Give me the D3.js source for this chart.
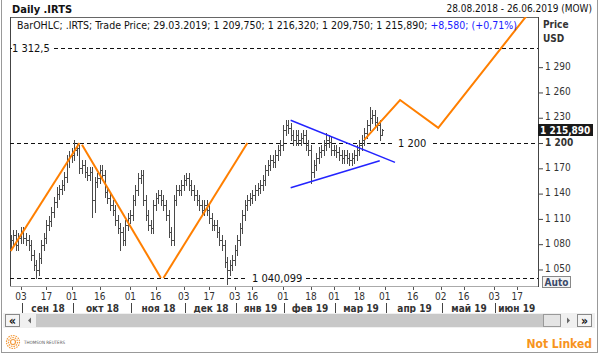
<!DOCTYPE html>
<html lang="ru">
<head>
<meta charset="utf-8">
<title>Daily .IRTS</title>
<script src="https://cdn.jsdelivr.net/npm/d3@7"></script>
<style>
  body { margin: 0; background: #fff; }
  svg { display: block; font-family: "DejaVu Sans Condensed", "DejaVu Sans", sans-serif; }
</style>
</head>
<body>
<script>
// ---- data ----
var firstDay = "2018-08-28", lastDay = "2019-06-26";
var holidays = ["2018-11-05", "2018-12-31", "2019-01-01", "2019-01-02", "2019-01-07", "2019-01-08",
  "2019-03-08", "2019-05-01", "2019-05-09", "2019-06-12"];

var opens = [1080,1085,1091,1079,1087,1094,1087,1085,1079,1067,1055,1049,1064,1079,1087,1103,1108,1118,1130,1140,
  1145,1150,1160,1180,1185,1186,1192,1194,1170,1174,1166,1162,1166,1132,1154,1158,1168,1162,1142,1135,
  1126,1121,1109,1099,1094,1085,1103,1111,1115,1132,1144,1158,1162,1132,1115,1103,1099,1126,1135,1138,
  1132,1126,1115,1094,1085,1132,1144,1144,1150,1156,1158,1150,1144,1138,1132,1126,1121,1126,1121,1111,
  1103,1103,1094,1085,1079,1059,1049,1055,1061,1073,1085,1099,1115,1126,1132,1135,1138,1144,1147,1150,
  1156,1168,1174,1180,1178,1186,1192,1198,1215,1221,1218,1209,1204,1209,1204,1206,1209,1198,1192,1166,
  1174,1182,1189,1192,1198,1204,1201,1192,1192,1189,1186,1182,1186,1182,1180,1182,1186,1192,1198,1204,
  1212,1221,1230,1233,1225,1221,1209.75];
var highs = [1091,1097,1097,1093,1100,1100,1093,1091,1085,1073,1061,1070,1085,1093,1109,1114,1124,1136,1148,1150,
  1156,1166,1186,1190,1194,1203,1200,1198,1180,1180,1172,1172,1172,1160,1164,1174,1174,1168,1148,1141,
  1132,1127,1115,1105,1100,1109,1117,1121,1138,1150,1164,1168,1168,1138,1121,1109,1132,1141,1144,1144,
  1138,1132,1121,1100,1138,1150,1150,1156,1162,1164,1164,1156,1150,1144,1138,1132,1132,1132,1127,1117,
  1109,1109,1100,1091,1085,1065,1061,1067,1079,1091,1105,1121,1132,1138,1141,1144,1150,1153,1156,1162,
  1174,1180,1186,1186,1192,1198,1204,1221,1227,1227,1224,1215,1215,1215,1212,1215,1215,1204,1198,1180,
  1188,1195,1198,1204,1212,1210,1207,1198,1198,1195,1192,1192,1192,1188,1188,1192,1198,1204,1210,1218,
  1227,1243,1239,1239,1231,1227,1216.32];
var lows = [1074,1079,1073,1073,1081,1081,1079,1073,1061,1049,1040.1,1043,1058,1073,1081,1097,1102,1112,1124,1134,
  1140,1144,1154,1172,1178,1180,1186,1164,1164,1160,1156,1156,1112,1118,1148,1152,1156,1136,1129,1120,
  1115,1103,1093,1073,1079,1079,1097,1105,1109,1126,1138,1152,1126,1109,1097,1093,1093,1120,1129,1126,
  1120,1109,1088,1079,1079,1126,1138,1138,1144,1150,1144,1138,1132,1126,1120,1115,1115,1115,1105,1097,
  1097,1088,1079,1073,1053,1033,1043,1049,1055,1067,1079,1093,1109,1120,1126,1129,1132,1138,1141,1144,
  1150,1162,1168,1172,1172,1180,1186,1192,1209,1212,1203,1198,1198,1198,1198,1200,1192,1186,1153,1160,
  1168,1176,1183,1186,1192,1195,1186,1186,1183,1180,1176,1176,1176,1174,1174,1176,1180,1186,1192,1198,
  1206,1215,1224,1219,1215,1203,1209.75];
var closes = [1085,1091,1079,1087,1094,1087,1085,1079,1067,1055,1049,1064,1079,1087,1103,1108,1118,1130,1140,1145,
  1150,1160,1180,1185,1186,1192,1194,1170,1174,1166,1162,1166,1132,1154,1158,1168,1162,1142,1135,1126,
  1121,1109,1099,1094,1085,1103,1111,1115,1132,1144,1158,1162,1132,1115,1103,1099,1126,1135,1138,1132,
  1126,1115,1094,1085,1132,1144,1144,1150,1156,1158,1150,1144,1138,1132,1126,1121,1126,1121,1111,1103,
  1103,1094,1085,1079,1059,1049,1055,1061,1073,1085,1099,1115,1126,1132,1135,1138,1144,1147,1150,1156,
  1168,1174,1180,1178,1186,1192,1198,1215,1221,1218,1209,1204,1209,1204,1206,1209,1198,1192,1166,1174,
  1182,1189,1192,1198,1204,1201,1192,1192,1189,1186,1182,1186,1182,1180,1182,1186,1192,1198,1204,1212,
  1221,1230,1233,1225,1221,1209,1215.89];

var yTicks = [1050, 1080, 1110, 1140, 1170, 1200, 1230, 1260, 1290];
var levels = [1312.5, 1200, 1040.099];
var dayTicks = ["2018-09-03", "2018-09-17", "2018-10-01", "2018-10-16", "2018-11-01", "2018-11-16",
  "2018-12-03", "2018-12-17", "2019-01-03", "2019-01-16", "2019-02-01", "2019-02-18", "2019-03-01",
  "2019-03-18", "2019-04-01", "2019-04-16", "2019-05-02", "2019-05-16", "2019-06-03", "2019-06-17"];
var monthStarts = ["2018-09-03", "2018-10-01", "2018-11-01", "2018-12-03", "2019-01-03", "2019-02-01",
  "2019-03-01", "2019-04-01", "2019-05-02", "2019-06-03"];
var monthNames = ["сен 18", "окт 18", "ноя 18", "дек 18", "янв 19", "фев 19", "мар 19", "апр 19", "май 19", "июн 19"];

// zigzag (orange) and triangle (blue) drawings
var zigzags = [
  [["2018-08-28", 1072], ["2018-10-04", 1200]],
  [["2018-10-05", 1198], ["2018-11-20", 1040]],
  [["2018-11-21", 1040], ["2019-01-14", 1200]],
  [["2019-03-20", 1204], ["2019-04-09", 1251], ["2019-04-30", 1218], ["2019-06-21", 1352]]
];
var triangle = [
  [["2019-02-06", 1227], ["2019-04-05", 1177]],
  [["2019-02-06", 1147], ["2019-03-28", 1179]]
];

var lastBar = {date: "29.03.2019", o: 1209.75, h: 1216.32, l: 1209.75, c: 1215.89, chg: 8.58, pct: 0.71};

// ---- layout ----
var w = 600, h = 354;
var pL = 10, pR = 538, pT = 17, pB = 286;

var parse = d3.timeParse("%Y-%m-%d");
var fmtDay = d3.timeFormat("%Y-%m-%d");
var ru = d3.formatLocale({decimal: ",", thousands: " ", grouping: [3], currency: ["", ""]});

// trading calendar: weekdays minus exchange holidays
var days = d3.timeDay.range(parse(firstDay), d3.timeDay.offset(parse(lastDay), 1))
  .filter(function(d) { return d.getDay() % 6 != 0 && holidays.indexOf(fmtDay(d)) < 0; })
  .map(fmtDay);
function idx(s) { return days.indexOf(s); }

var bars = closes.map(function(c, i) {
  return {i: i, o: opens[i], h: highs[i], l: lows[i], c: c};
});

var x = d3.scaleLinear().domain([-0.3, 207.2]).range([pL, pR]);
var y = d3.scaleLinear().domain([1030.4, 1349.5]).range([pB, pT]);

var svg = d3.select("body").append("svg").attr("width", w).attr("height", h);

svg.append("rect").attr("width", w).attr("height", h).attr("fill", "#fff");

svg.append("clipPath").attr("id", "plot")
  .append("rect").attr("x", pL).attr("y", pT).attr("width", pR - pL).attr("height", pB - pT);

// title row
svg.append("text").attr("x", 12).attr("y", 13).attr("font-size", 11).attr("font-weight", "bold")
  .attr("fill", "#111").text("Daily .IRTS");
svg.append("text").attr("x", 592).attr("y", 12).attr("font-size", 10).attr("text-anchor", "end")
  .attr("fill", "#111").text("28.08.2018 - 26.06.2019 (MOW)");

// frame
svg.append("line").attr("x1", pL).attr("x2", pR).attr("y1", pT + 0.5).attr("y2", pT + 0.5)
  .attr("stroke", "#666");
svg.append("line").attr("x1", pL + 0.5).attr("x2", pL + 0.5).attr("y1", pT).attr("y2", pB)
  .attr("stroke", "#444");
svg.append("line").attr("x1", pL).attr("x2", pR).attr("y1", pB + 0.5).attr("y2", pB + 0.5)
  .attr("stroke", "#aaa");
svg.append("line").attr("x1", pR + 0.5).attr("x2", pR + 0.5).attr("y1", pT).attr("y2", pB + 1)
  .attr("stroke", "#444");

var plot = svg.append("g").attr("clip-path", "url(#plot)");

// horizontal levels with labels
var levelFmt = [ru.format(",.1f"), ru.format(",.0f"), ru.format(",.3f")];
var levelGaps = [[12, 54], [392, 433], [246, 306]];
levels.forEach(function(v, k) {
  var yy = Math.round(y(v)) + 0.5;
  var g = levelGaps[k];
  plot.append("line").attr("x1", pL).attr("x2", g[0]).attr("y1", yy).attr("y2", yy);
  plot.append("line").attr("x1", g[1]).attr("x2", pR).attr("y1", yy).attr("y2", yy);
  svg.append("text").attr("x", g[0] + (k == 0 ? 0 : 6)).attr("y", yy).attr("dy", "0.35em")
    .attr("font-size", 11).attr("fill", "#111").text(levelFmt[k](v));
});
plot.selectAll("line").attr("stroke", "#111").attr("stroke-dasharray", "4,3");

// OHLC bars
plot.append("g").selectAll("path").data(bars).join("path")
  .attr("d", function(d) {
    var xx = Math.round(x(d.i)) + 0.5;
    var yo = Math.round(y(d.o)) + 0.5, yc = Math.round(y(d.c)) + 0.5;
    return "M" + xx + "," + Math.round(y(d.h)) + "V" + (Math.round(y(d.l)) + 1) +
      "M" + (xx - 1.5) + "," + yo + "H" + xx + "M" + xx + "," + yc + "H" + (xx + 1.5);
  })
  .attr("fill", "none").attr("stroke", "#4a4a4a").attr("stroke-width", 1);

// drawings
var line = d3.line()
  .x(function(p) { return x(idx(p[0])); })
  .y(function(p) { return y(p[1]); });
plot.selectAll("path.zig").data(zigzags).join("path").attr("class", "zig")
  .attr("d", line).attr("fill", "none").attr("stroke", "#ff7f00").attr("stroke-width", 2);
plot.selectAll("path.tri").data(triangle).join("path").attr("class", "tri")
  .attr("d", line).attr("fill", "none").attr("stroke", "#2323ff").attr("stroke-width", 1.5);

// legend line
var leg = svg.append("text").attr("x", 17).attr("y", 29).attr("font-size", 10.5).attr("fill", "#111");
leg.append("tspan").text("BarOHLC; .IRTS; Trade Price; " + lastBar.date + "; " +
  [lastBar.o, lastBar.h, lastBar.l, lastBar.c].map(ru.format(",.3f")).join("; ") + "; ");
leg.append("tspan").attr("fill", "#1a1aff")
  .text(ru.format("+,.3f")(lastBar.chg) + "; (" + ru.format("+,.2f")(lastBar.pct) + "%)");

// price axis
var yAxis = svg.append("g").attr("transform", "translate(" + pR + ",0)")
  .call(d3.axisRight(y).tickValues(yTicks).tickSize(5).tickPadding(2).tickFormat(ru.format(",.0f")));
yAxis.attr("font-family", null);
yAxis.select(".domain").remove();
yAxis.selectAll("line").attr("stroke", "#444");
yAxis.selectAll("text").attr("font-size", 10).attr("fill", "#333").attr("dy", "0.22em")
  .attr("font-weight", function(d) { return d == 1200 ? "bold" : null; });

svg.append("text").attr("x", 543).attr("y", 28).attr("font-size", 10).attr("font-weight", "bold")
  .attr("fill", "#333").text("Price");
svg.append("text").attr("x", 543).attr("y", 42).attr("font-size", 10).attr("font-weight", "bold")
  .attr("fill", "#333").text("USD");

// last price marker
var yl = y(lastBar.c);
svg.append("rect").attr("x", pR).attr("y", Math.round(yl) - 6).attr("width", 55).attr("height", 12)
  .attr("fill", "#1a1a1a");
svg.append("text").attr("x", pR + 2).attr("y", Math.round(yl)).attr("dy", "0.36em")
  .attr("font-size", 10).attr("font-weight", "bold").attr("fill", "#fff").text(ru.format(",.3f")(lastBar.c));

// Auto button
svg.append("rect").attr("x", 542.5).attr("y", 276.5).attr("width", 28).attr("height", 11)
  .attr("fill", "#f4f4f4").attr("stroke", "#888");
svg.append("text").attr("x", 556.5).attr("y", 285.5).attr("text-anchor", "middle").attr("font-size", 10)
  .attr("font-weight", "bold").attr("fill", "#3a4a6a").text("Auto");

// time axis
var xAxis = svg.append("g");
xAxis.selectAll("line.tick").data(dayTicks).join("line").attr("class", "tick")
  .attr("x1", function(d) { return Math.round(x(idx(d))) + 0.5; })
  .attr("x2", function(d) { return Math.round(x(idx(d))) + 0.5; })
  .attr("y1", pB + 1).attr("y2", pB + 4).attr("stroke", "#555");
xAxis.selectAll("text.day").data(dayTicks).join("text").attr("class", "day")
  .attr("x", function(d) { return x(idx(d)); }).attr("y", 300)
  .attr("text-anchor", "middle").attr("font-size", 10).attr("fill", "#333")
  .text(function(d) { return d.slice(8); });
var sep = monthStarts.map(function(d) { return Math.round(x(idx(d))) + 1.5; });
xAxis.selectAll("line.sep").data(sep).join("line").attr("class", "sep")
  .attr("x1", function(d) { return d; }).attr("x2", function(d) { return d; })
  .attr("y1", 303).attr("y2", 313).attr("stroke", "#444");
xAxis.selectAll("text.month").data(monthNames).join("text").attr("class", "month")
  .attr("x", function(d, i) { return ((sep[i]) + (i + 1 < sep.length ? sep[i + 1] : pR)) / 2; })
  .attr("y", 312).attr("text-anchor", "middle").attr("font-size", 10).attr("font-weight", "bold")
  .attr("fill", "#333").text(function(d) { return d; });

// scrollbar
svg.append("rect").attr("x", 3).attr("y", 313).attr("width", 592).attr("height", 15).attr("fill", "#f0f0f0");
svg.append("rect").attr("x", 36).attr("y", 314).attr("width", 507).attr("height", 13).attr("fill", "#c8c8c8");
svg.append("rect").attr("x", 543.5).attr("y", 314.5).attr("width", 17).attr("height", 12)
  .attr("fill", "#e4e4e4").attr("stroke", "#999");
svg.append("rect").attr("x", 5.5).attr("y", 314.5).attr("width", 14).attr("height", 12)
  .attr("fill", "#f4f4f4").attr("stroke", "#888");
svg.append("rect").attr("x", 577.5).attr("y", 314.5).attr("width", 14).attr("height", 12)
  .attr("fill", "#f4f4f4").attr("stroke", "#888");
svg.append("text").attr("x", 12.5).attr("y", 324.5).attr("text-anchor", "middle").attr("font-size", 12)
  .attr("font-weight", "bold").attr("fill", "#111").text("«");
svg.append("text").attr("x", 584.5).attr("y", 324.5).attr("text-anchor", "middle").attr("font-size", 12)
  .attr("font-weight", "bold").attr("fill", "#111").text("»");
svg.append("path").attr("d", "M31,317.5L28,320.5L31,323.5Z").attr("fill", "#666");
svg.append("path").attr("d", "M567,317.5L570,320.5L567,323.5Z").attr("fill", "#666");

// footer
var logo = svg.append("g").attr("transform", "translate(13,342)");
[6.5, 4.5, 2.5].forEach(function(r, k) {
  logo.append("circle").attr("r", r).attr("fill", "none").attr("stroke", "#f39a3c")
    .attr("stroke-width", 1.2).attr("stroke-dasharray", k == 2 ? null : "1.5,1");
});
svg.append("text").attr("x", 24).attr("y", 344).attr("font-size", 4.5).attr("fill", "#555")
  .text("THOMSON REUTERS");
svg.append("text").attr("x", 592).attr("y", 348).attr("text-anchor", "end").attr("font-size", 12)
  .attr("font-weight", "bold").attr("fill", "#f7941d").text("Not Linked");

// outer frame
svg.append("rect").attr("x", 1.5).attr("y", -1).attr("width", 596).attr("height", 353.5)
  .attr("fill", "none").attr("stroke", "#999");
</script>
</body>
</html>
